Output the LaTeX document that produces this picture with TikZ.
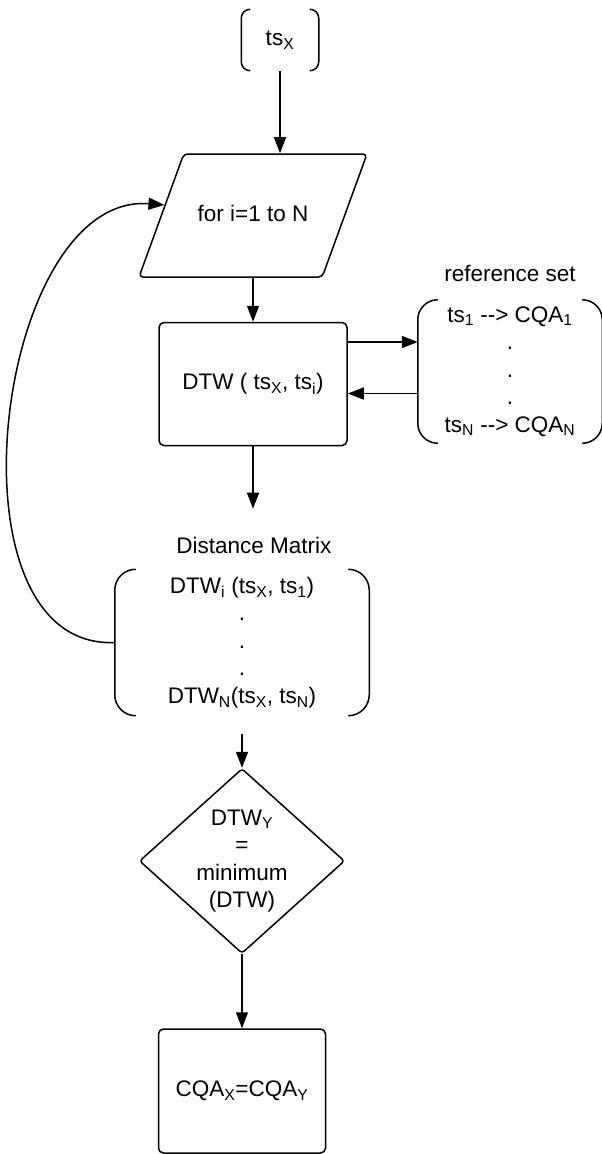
\documentclass[tikz,border=0pt]{standalone}
\usepackage{fontspec}
\setmainfont{Liberation Sans}
\usetikzlibrary{positioning,arrows.meta,shapes.geometric,calc}

\begin{document}
\begin{tikzpicture}[
  x=1pt, y=-1pt,
  font=\fontsize{22.5}{27.5}\selectfont,
  line width=1.5pt,
  box/.style={draw, rounded corners=5pt, align=center},
  loopbox/.style={draw, trapezium, trapezium left angle=70, trapezium right angle=110,
                  trapezium stretches body, text height=16pt, text depth=5pt, inner ysep=51pt,
                  minimum width=228pt, rounded corners=4pt, align=center},
  decision/.style={draw, diamond, aspect=1.11, minimum width=205pt, minimum height=184pt,
                   inner sep=0pt, rounded corners=3pt, align=center},
  list/.style={align=center},
  arr/.style={-{Triangle[length=16pt,width=12pt]}}
]
\useasboundingbox (0,0) rectangle (602,1154);
\node[list, minimum width=76pt, minimum height=60pt] (tsx) at (280,40) {ts\textsubscript{X}};
\node[loopbox] (loop) at (253,215.5) {for i=1 to N};
\node[box, minimum width=188pt, minimum height=123pt, below=44pt of loop] (dtw) {DTW ( ts\textsubscript{X}, ts\textsubscript{i})};
\node[list, minimum width=183pt, minimum height=142pt, right=70pt of dtw, yshift=12.5pt] (refset)
  {ts\textsubscript{1} -{}-> CQA\textsubscript{1}\\.\\.\\.\\ts\textsubscript{N} -{}-> CQA\textsubscript{N}};
\node[above=14pt of refset] (refname) {reference set};
\node (distname) at (254,545) {Distance Matrix};
\node[list, minimum width=253pt, minimum height=145pt] (dist) at (242,642.5)
  {DTW\textsubscript{i} (ts\textsubscript{X}, ts\textsubscript{1})\\.\\.\\.\\DTW\textsubscript{N}(ts\textsubscript{X}, ts\textsubscript{N})};
\node[decision] (min) at (242,861) {DTW\textsubscript{Y}\\=\\minimum\\(DTW)};
\node[box, minimum width=167pt, minimum height=124pt] (cqa) at (242,1091) {CQA\textsubscript{X}=CQA\textsubscript{Y}};
% brackets
\foreach \n/\rad in {tsx/9, refset/20, dist/21}{
  \draw[rounded corners=\rad pt] ([xshift=\rad pt]\n.north west) -- (\n.north west) -- (\n.south west) -- ([xshift=\rad pt]\n.south west);
  \draw[rounded corners=\rad pt] ([xshift=-\rad pt]\n.north east) -- (\n.north east) -- (\n.south east) -- ([xshift=-\rad pt]\n.south east);
}
% main flow
\draw[arr] (tsx.south) -- (tsx.south |- loop.north);
\draw[arr] (loop.south) -- (dtw.north);
\draw[arr] ([yshift=42pt]dtw.east) -- ([yshift=42pt]dtw.east -| refset.west);
\draw[arr] ([yshift=-9.5pt]dtw.east -| refset.west) -- ([yshift=-9.5pt]dtw.east);
\draw[arr] (dtw.south) -- ($(dtw.south |- distname.north)+(0,-24)$);
\draw[arr] ($(dist.south)+(0,18)$) -- (min.north);
\draw[arr] (min.south) -- (cqa.north);
% loop back
\draw[arr] (dist.west) .. controls (-60,650) and (-5,192) .. ($(loop.bottom left corner)!0.585!(loop.top left corner)$);
\end{tikzpicture}
\end{document}
